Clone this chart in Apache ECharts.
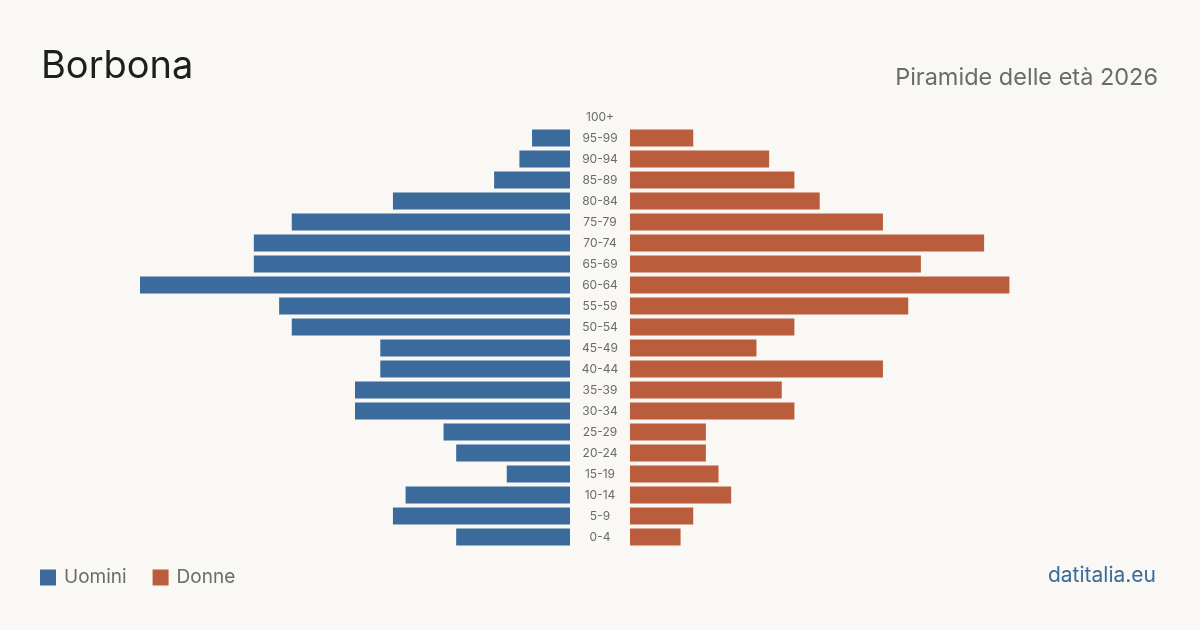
<!DOCTYPE html>
<html>
<head>
<meta charset="utf-8">
<script src="https://cdn.jsdelivr.net/npm/echarts@6/dist/echarts.min.js"></script>
<style>
  html, body { margin: 0; padding: 0; background: #f9f8f4; }
  #chart { width: 1200px; height: 630px; }
</style>
</head>
<body>
<div id="chart"></div>
<script>
// fasce d'età, dall'alto verso il basso
const ageGroups = ["100+", "95-99", "90-94", "85-89", "80-84", "75-79", "70-74", "65-69", "60-64", "55-59",
  "50-54", "45-49", "40-44", "35-39", "30-34", "25-29", "20-24", "15-19", "10-14", "5-9", "0-4"];
const men = [0, 3, 4, 6, 14, 22, 25, 25, 34, 23, 22, 15, 15, 17, 17, 10, 9, 5, 13, 14, 9];
const women = [0, 5, 11, 13, 15, 20, 28, 23, 30, 22, 13, 10, 20, 12, 13, 6, 6, 7, 8, 5, 4];
const maxVal = 34;

const font = "Inter, 'Noto Sans', sans-serif";
const blue = "#3b6b9c";
const orange = "#b95d3c";

let chart = echarts.init(document.getElementById("chart"));
let option = {
  backgroundColor: "#f9f8f4",
  animation: false,
  textStyle: { fontFamily: font },
  title: [
    {
      text: "Borbona",
      left: 41, top: 48, padding: 0,
      textStyle: { fontSize: 38, fontWeight: "normal", color: "#1e1e1e", fontFamily: font },
    },
    {
      text: "Piramide delle età 2026",
      right: 42, top: 66, padding: 0,
      textStyle: { fontSize: 23.5, fontWeight: "normal", color: "#6b6b6b", fontFamily: font },
    },
    {
      text: "datitalia.eu",
      right: 44, top: 565, padding: 0,
      textStyle: { fontSize: 21, fontWeight: "normal", color: "#3b6b9c", fontFamily: font },
    },
  ],
  legend: {
    left: 40, top: 568, padding: 0,
    itemWidth: 16, itemHeight: 16, itemGap: 26,
    icon: "rect",
    textStyle: { fontSize: 19, color: "#6b6b6b", fontFamily: font, padding: [0, 0, 0, 3] },
    data: ["Uomini", "Donne"],
  },
  // griglia sinistra (uomini) e destra (donne)
  grid: [
    { left: 140, width: 430, top: 106.5, height: 441 },
    { left: 630, width: 430, top: 106.5, height: 441 },
  ],
  xAxis: [
    { gridIndex: 0, type: "value", min: 0, max: maxVal, inverse: true, show: false },
    { gridIndex: 1, type: "value", min: 0, max: maxVal, show: false },
  ],
  yAxis: [
    {
      gridIndex: 0, type: "category", data: ageGroups, inverse: true, position: "right",
      axisLine: { show: false }, axisTick: { show: false },
      axisLabel: { color: "#6b6b6b", fontSize: 12, align: "center", margin: 30, fontFamily: font },
    },
    {
      gridIndex: 1, type: "category", data: ageGroups, inverse: true, show: false,
    },
  ],
  series: [
    {
      name: "Uomini", type: "bar", xAxisIndex: 0, yAxisIndex: 0,
      data: men, barWidth: 17, itemStyle: { color: blue },
    },
    {
      name: "Donne", type: "bar", xAxisIndex: 1, yAxisIndex: 1,
      data: women, barWidth: 17, itemStyle: { color: orange },
    },
  ],
};
chart.setOption(option);
</script>
</body>
</html>
